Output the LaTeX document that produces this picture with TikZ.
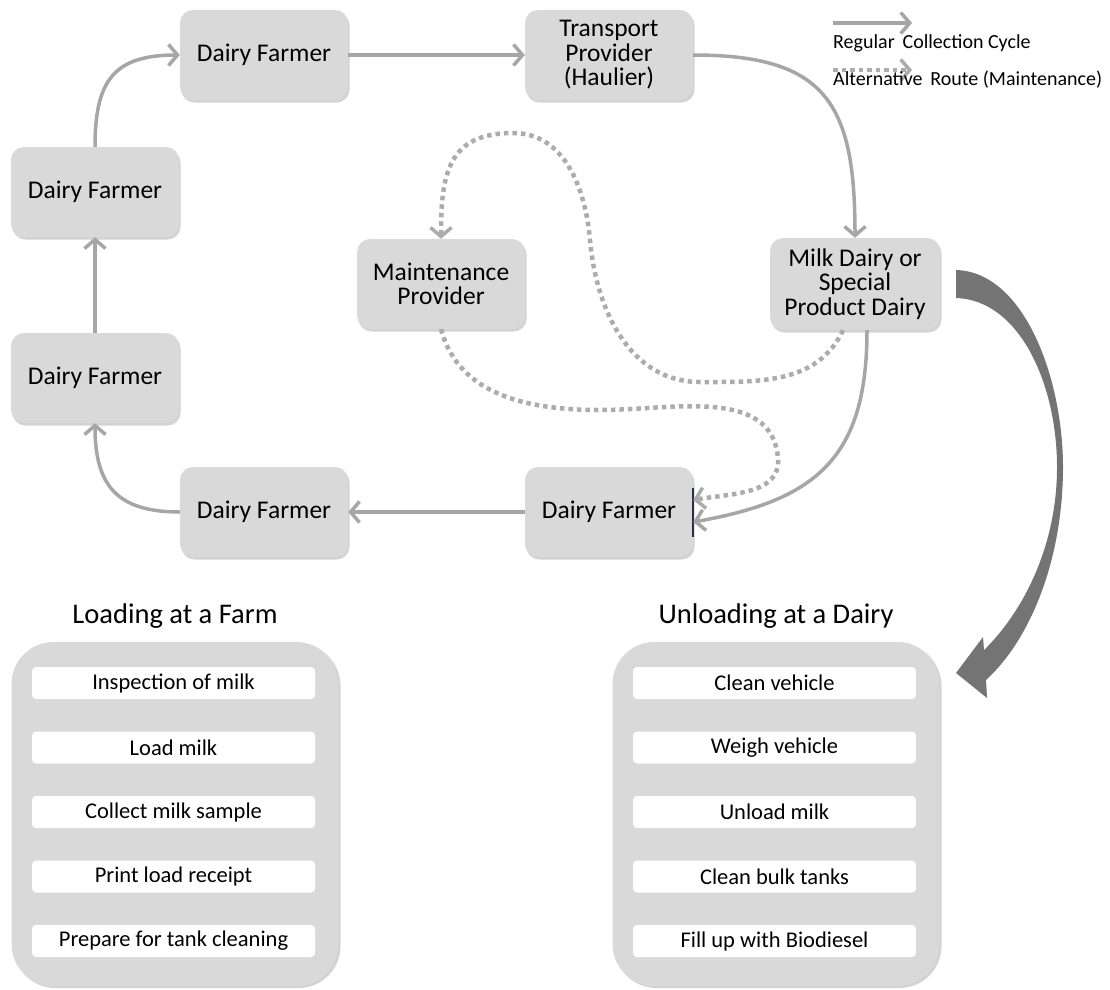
\documentclass[tikz,border=0pt]{standalone}
\usepackage{fontspec}
\setmainfont{Carlito}
\usepackage{tikz}
\usetikzlibrary{arrows.meta,positioning,calc,shadows}
\definecolor{boxgray}{RGB}{217,217,217}
\definecolor{linegray}{RGB}{166,166,166}
\definecolor{dotgray}{RGB}{172,172,172}
\definecolor{bigarrow}{RGB}{116,116,116}
\definecolor{edgeblue}{RGB}{40,48,70}
\tikzset{
  farm/.style={fill=boxgray, rounded corners=13pt, minimum width=168pt, minimum height=90pt,
    align=center, inner sep=2pt, font=\fontsize{25.5pt}{24.5pt}\selectfont,
    drop shadow={shadow xshift=1.5pt, shadow yshift=-2.5pt, opacity=0.35, fill=gray}},
  panel/.style={fill=boxgray, rounded corners=42pt, minimum width=327pt, minimum height=344pt,
    drop shadow={shadow xshift=2pt, shadow yshift=-2pt, opacity=0.35, fill=gray}},
  item/.style={fill=white, rounded corners=4pt, minimum width=283pt, minimum height=32pt,
    inner sep=0pt, font=\fontsize{22.5pt}{24pt}\selectfont},
  title/.style={anchor=base, font=\fontsize{28.5pt}{30pt}\selectfont},
  legendtext/.style={anchor=base west, inner sep=0pt, font=\fontsize{20pt}{21pt}\selectfont},
  flow/.style={draw=linegray, line width=3.5pt, -{Straight Barb[length=9pt,width=21pt]}},
  alt/.style={draw=dotgray, line width=4.5pt, dash pattern=on 4.5pt off 4pt,
    -{Straight Barb[length=9pt,width=21pt,line width=3.5pt]}}
}
\newcommand \mydrawlist[4]
{
\node[panel] (#1) at (#2,-814) {};
\node[title] (#1t) at (#2,-623) {#3};
\foreach \t [count=\i] in {#4}
  \node[item] (#1\i) at (#2-1.5,-683-64.5*\i+64.5) {\t};
}

\begin{document}
\begin{tikzpicture}[x=1pt, y=1pt, line join=round]
\useasboundingbox (0,0) rectangle (1110,-989);
% collection cycle
\node[farm] (f1)    at (264,-55)  {Dairy Farmer};
\node[farm] (trans) at (609,-55)  {Transport\\Provider\\(Haulier)};
\node[farm] (f2)    at (95,-192)  {Dairy Farmer};
\node[farm] (f3)    at (95,-378)  {Dairy Farmer};
\node[farm] (maint) at (441,-284) {Maintenance\\Provider};
\node[farm, minimum width=170pt, minimum height=92pt] (dairy) at (855,-284) {Milk Dairy or\\Special\\Product Dairy};
\node[farm] (f4)    at (264,-512) {Dairy Farmer};
\node[farm] (f5)    at (609,-512) {Dairy Farmer};
\draw[edgeblue, line width=1.5pt] ([yshift=24pt]f5.east) -- ([yshift=-25pt]f5.east);
\draw[flow] (f3.north) -- (f2.south);
\draw[flow] (f2.north) to[out=90, in=180, looseness=1.35] (f1.west);
\draw[flow] (f1.east) -- (trans.west);
\draw[flow] (trans.east) to[out=0, in=90, looseness=1.4] (dairy.north);
\draw[flow] ([xshift=12pt]dairy.south) to[out=-90, in=10, looseness=1.25] ([yshift=-10pt]f5.east);
\draw[flow] (f5.west) -- (f4.east);
\draw[flow] (f4.west) to[out=180, in=-90, looseness=1.3] (f3.south);
% maintenance route
\coordinate (m1) at (700,-382);
\coordinate (m2) at (590,-240);
\coordinate (m3) at (513,-133);
\coordinate (m4) at (600,-410);
\coordinate (m5) at (778,-458);
\draw[alt] ([xshift=-12pt]dairy.south) to[out=-115, in=0] (m1) to[out=180, in=-85] (m2)
  to[out=95, in=0] (m3) to[out=180, in=90, looseness=1.3] (maint.north);
\draw[alt] (maint.south) to[out=-75, in=180] (m4) to[out=0, in=95] (m5)
  to[out=-85, in=10] ([yshift=12pt]f5.east);
% to the dairy
\fill[bigarrow] (956,-270) .. controls (1025,-272) and (1063,-380) .. (1063,-467)
  .. controls (1063,-560) and (1030,-640) .. (986,-680) -- (987,-698) -- (956,-673)
  -- (983,-637) -- (984,-650) .. controls (1020,-615) and (1057,-550) .. (1057,-467)
  .. controls (1057,-385) and (1020,-300) .. (956,-298) -- cycle;
% legend
\coordinate (lg1) at (833,-23);
\coordinate (lg2) at (912,-23);
\coordinate (lg3) at (833,-70);
\coordinate (lg4) at (912,-70);
\draw[flow] (lg1) -- (lg2);
\draw[alt] (lg3) -- (lg4);
\node[legendtext] (lt1) at (833,-48) {Regular\, Collection Cycle};
\node[legendtext] (lt2) at (833,-85) {Alternative\, Route (Maintenance)};
% tasks
\mydrawlist{load}{175}{Loading at a Farm}{Inspection of milk, Load milk, Collect milk sample, Print load receipt, Prepare for tank cleaning}
\mydrawlist{unload}{776}{Unloading at a Dairy}{Clean vehicle, Weigh vehicle, Unload milk, Clean bulk tanks, Fill up with Biodiesel}
\end{tikzpicture}
\end{document}
